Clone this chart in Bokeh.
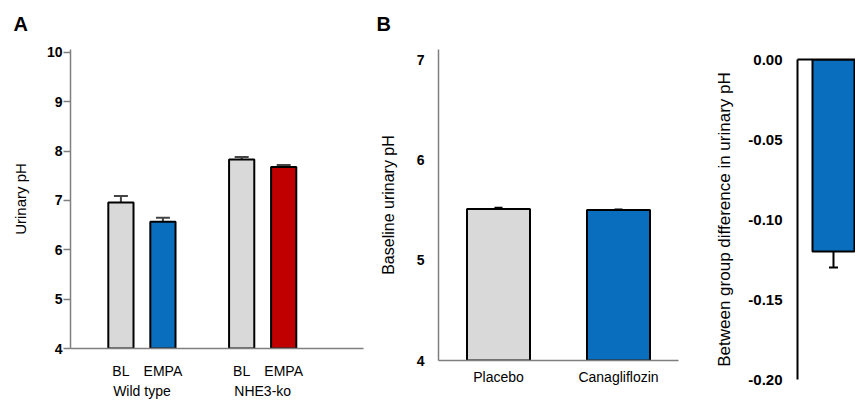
from bokeh.plotting import figure
from bokeh.layouts import row
from bokeh.models import (ColumnDataSource, Whisker, TeeHead, FixedTicker, LinearAxis,
                          Range1d, FactorRange)
from bokeh.embed import file_html
from bokeh.resources import INLINE

FONT = "Liberation Sans"
GRAY = "#d9d9d9"
BLUE = "#0a6ebe"
RED = "#c00000"
H = 403

# ---------------- Panel A data ----------------
a_groups = ["Wild type", "NHE3-ko"]
a_conditions = ["BL", "EMPA"]
a_values = [[6.96, 6.57], [7.83, 7.68]]
a_errors = [[0.13, 0.08], [0.05, 0.04]]
a_colors = [[GRAY, BLUE], [GRAY, RED]]
a_yticks = [4, 5, 6, 7, 8, 9, 10]

# ---------------- Panel B data ----------------
b_groups = ["Placebo", "Canagliflozin"]
b_values = [5.51, 5.50]
b_errors = [0.012, 0.006]
b_colors = [GRAY, BLUE]
b_yticks = [4, 5, 6, 7]

# ---------------- Panel B (right) data ----------------
c_values = [-0.12]
c_errors = [0.01]
c_yticks = [0.0, -0.05, -0.10, -0.15, -0.20]
c_ytick_labels = ["0.00", "-0.05", "-0.10", "-0.15", "-0.20"]


def style_common(p):
    p.outline_line_color = None
    p.xgrid.visible = False
    p.ygrid.visible = False
    p.background_fill_color = "white"
    p.border_fill_color = "white"


def panel_title(p, text, offset):
    p.title.text = text
    p.title.text_font = FONT
    p.title.text_font_size = "20px"
    p.title.text_font_style = "bold"
    p.title.text_color = "black"
    p.title.align = "left"
    p.title.offset = offset
    p.title.vertical_align = "top"
    p.title.standoff = 25


def no_ticks(ax):
    ax.major_tick_line_color = None
    ax.minor_tick_line_color = None
    ax.major_tick_out = 0
    ax.major_tick_in = 0
    ax.minor_tick_out = 0
    ax.minor_tick_in = 0


# ================= Panel A =================
GROUP_STEP = 2.875
xs, tops, uppers, cols, sub_labels = [], [], [], [], {}
group_centers, group_labels = [], {}
for gi, g in enumerate(a_groups):
    gx = []
    for si, c in enumerate(a_conditions):
        x = gi * GROUP_STEP + si
        xs.append(x)
        gx.append(x)
        tops.append(a_values[gi][si])
        uppers.append(a_values[gi][si] + a_errors[gi][si])
        cols.append(a_colors[gi][si])
        sub_labels[x] = c
    gc = sum(gx) / len(gx)
    group_centers.append(gc)
    group_labels[gc] = g

base_a = a_yticks[0]
srcA = ColumnDataSource(dict(x=xs, top=tops, upper=uppers, color=cols))

pA = figure(width=375, height=H, x_range=Range1d(-1.2, 5.775),
            y_range=Range1d(base_a, 10.06), output_backend="svg", toolbar_location=None,
            x_axis_location=None, min_border_left=70, min_border_right=12,
            min_border_top=48, min_border_bottom=H - 348, frame_align=False)
style_common(pA)
panel_title(pA, "A", -57)
pA.vbar(x="x", top="top", bottom=base_a, width=0.6, source=srcA, fill_color="color",
        line_color="black", line_width=2)
pA.add_layout(Whisker(source=srcA, base="x", upper="upper", lower="top", dimension="height",
                      line_color="#444444", line_width=2,
                      upper_head=TeeHead(size=14, line_color="#444444", line_width=2),
                      lower_head=None))

ya = pA.yaxis[0]
ya.ticker = FixedTicker(ticks=a_yticks)
ya.axis_line_color = "#7f7f7f"
ya.axis_line_width = 1.5
ya.major_tick_line_color = "#7f7f7f"
ya.major_tick_line_width = 1.5
ya.major_tick_out = 7
ya.major_tick_in = 0
ya.minor_tick_line_color = None
ya.major_label_standoff = 1
ya.major_label_text_font = FONT
ya.major_label_text_font_size = "14px"
ya.major_label_text_font_style = "bold"
ya.major_label_text_color = "black"
ya.axis_label = "Urinary pH"
ya.axis_label_text_font = FONT
ya.axis_label_text_font_size = "15px"
ya.axis_label_text_font_style = "normal"
ya.axis_label_text_color = "black"
ya.axis_label_standoff = 15

xa1 = LinearAxis(ticker=FixedTicker(ticks=xs), major_label_overrides=sub_labels)
xa1.axis_line_color = "#7f7f7f"
xa1.axis_line_width = 1.5
no_ticks(xa1)
xa1.major_label_standoff = 14
xa1.major_label_text_font = FONT
xa1.major_label_text_font_size = "14px"
xa1.major_label_text_color = "black"
pA.add_layout(xa1, "below")

xa2 = LinearAxis(ticker=FixedTicker(ticks=group_centers), major_label_overrides=group_labels)
xa2.axis_line_color = None
no_ticks(xa2)
xa2.major_label_standoff = 1
xa2.major_label_text_font = FONT
xa2.major_label_text_font_size = "14px"
xa2.major_label_text_color = "black"
pA.add_layout(xa2, "below")

# ================= Panel B (left) =================
base_b = b_yticks[0]
srcB = ColumnDataSource(dict(x=b_groups, top=b_values,
                             lower=[v - e for v, e in zip(b_values, b_errors)],
                             upper=[v + e for v, e in zip(b_values, b_errors)],
                             color=b_colors))
pB = figure(width=315, height=H, x_range=FactorRange(factors=b_groups, range_padding=0),
            y_range=Range1d(base_b, 7.1), output_backend="svg", toolbar_location=None,
            min_border_left=63, min_border_right=12, min_border_top=48,
            min_border_bottom=H - 360, frame_align=False)
style_common(pB)
panel_title(pB, "B", -62)
pB.vbar(x="x", top="top", bottom=base_b, width=0.525, source=srcB, fill_color="color",
        line_color="black", line_width=2)
pB.add_layout(Whisker(source=srcB, base="x", upper="upper", lower="lower", dimension="height",
                      line_color="black", line_width=2,
                      upper_head=TeeHead(size=8, line_color="black", line_width=2),
                      lower_head=None))

yb = pB.yaxis[0]
yb.ticker = FixedTicker(ticks=b_yticks)
yb.axis_line_color = "#7f7f7f"
yb.axis_line_width = 1.5
no_ticks(yb)
yb.major_label_standoff = 14
yb.major_label_text_font = FONT
yb.major_label_text_font_size = "14px"
yb.major_label_text_font_style = "bold"
yb.major_label_text_color = "black"
yb.axis_label = "Baseline urinary pH"
yb.axis_label_text_font = FONT
yb.axis_label_text_font_size = "16px"
yb.axis_label_text_font_style = "normal"
yb.axis_label_text_color = "black"
yb.axis_label_standoff = 17

xb = pB.xaxis[0]
xb.axis_line_color = "#7f7f7f"
xb.axis_line_width = 1.5
no_ticks(xb)
xb.major_label_standoff = 8
xb.major_label_text_font = FONT
xb.major_label_text_font_size = "14px"
xb.major_label_text_color = "black"

# ================= Panel B (right) =================
c_x = list(range(len(c_values)))
srcC = ColumnDataSource(dict(x=c_x, bottom=c_values,
                             lower=[v - e for v, e in zip(c_values, c_errors)]))
pC = figure(width=165, height=H, x_range=Range1d(-0.6, 0.367),
            y_range=Range1d(c_yticks[-1], c_yticks[0]), output_backend="svg",
            toolbar_location=None, x_axis_location=None,
            min_border_left=107, min_border_right=0, min_border_top=59,
            min_border_bottom=H - 379, frame_align=False)
style_common(pC)
pC.vbar(x="x", top=c_yticks[0], bottom="bottom", width=0.7, source=srcC, fill_color=BLUE,
        line_color="black", line_width=2)
pC.add_layout(Whisker(source=srcC, base="x", upper="bottom", lower="lower", dimension="height",
                      line_color="black", line_width=2, upper_head=None,
                      lower_head=TeeHead(size=9, line_color="black", line_width=2)))

yc = pC.yaxis[0]
yc.ticker = FixedTicker(ticks=c_yticks)
yc.major_label_overrides = dict(zip(c_yticks, c_ytick_labels))
yc.axis_line_color = "black"
yc.axis_line_width = 2
no_ticks(yc)
yc.major_label_standoff = 15
yc.major_label_text_font = FONT
yc.major_label_text_font_size = "15px"
yc.major_label_text_font_style = "bold"
yc.major_label_text_color = "black"
yc.axis_label = "Between group difference in urinary pH"
yc.axis_label_text_font = FONT
yc.axis_label_text_font_size = "17px"
yc.axis_label_text_font_style = "normal"
yc.axis_label_text_color = "black"
yc.axis_label_standoff = 11

xc = LinearAxis(ticker=FixedTicker(ticks=[]))
xc.axis_line_color = "black"
xc.axis_line_width = 2
no_ticks(xc)
pC.add_layout(xc, "above")

layout = row(pA, pB, pC)
open("out.html", "w").write(file_html(layout, INLINE))
